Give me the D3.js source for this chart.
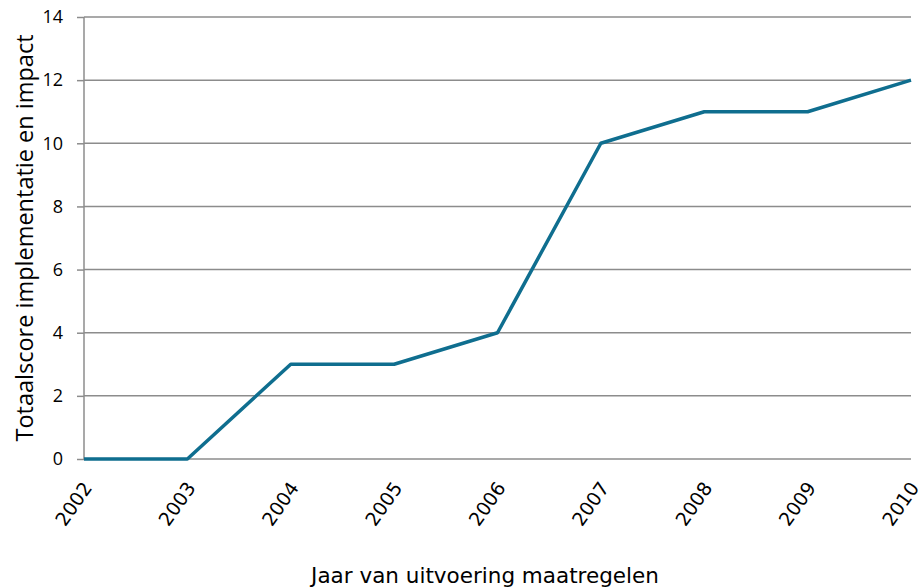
<!DOCTYPE html>
<html>
<head>
<meta charset="utf-8">
<script src="https://cdn.jsdelivr.net/npm/d3@7"></script>
<style>
  body { margin: 0; background: #fff; }
  svg text { font-family: "DejaVu Sans", Verdana, sans-serif; fill: #000; }
</style>
</head>
<body>
<div id="chart"></div>
<script>
// jaren en scores
const years = ["2002", "2003", "2004", "2005", "2006", "2007", "2008", "2009", "2010"];
const scores = [0, 0, 3, 3, 4, 10, 11, 11, 12];
const yTicks = [0, 2, 4, 6, 8, 10, 12, 14];

const width = 920, height = 587;
const margin = {top: 17, right: 9, bottom: 128, left: 84};
const w = width - margin.left - margin.right,
      h = height - margin.top - margin.bottom;

const svg = d3.select("#chart")
  .append("svg")
    .attr("width", width)
    .attr("height", height);

const g = svg.append("g")
    .attr("transform", "translate(" + margin.left + "," + margin.top + ")");

const x = d3.scalePoint()
  .domain(years)
  .range([0, w]);

const y = d3.scaleLinear()
  .domain([0, 14])
  .range([h, 0]);

// gridlines + y axis
const yAxis = g.append("g")
  .call(d3.axisLeft(y).tickValues(yTicks).tickSize(7).tickPadding(14).tickFormat(d3.format("d")));
yAxis.select(".domain").remove();
yAxis.selectAll("line").attr("stroke", "#8c8c8c").attr("stroke-width", 1.5);
yAxis.selectAll("text")
  .style("font-family", "'Open Sans', sans-serif")
  .style("font-size", "18px");

g.append("g")
  .selectAll("line")
  .data(yTicks)
  .enter()
  .append("line")
    .attr("x1", 0)
    .attr("x2", w)
    .attr("y1", d => y(d))
    .attr("y2", d => y(d))
    .attr("stroke", "#8c8c8c")
    .attr("stroke-width", 1.5);

g.append("line")
  .attr("x1", 0).attr("x2", 0)
  .attr("y1", 0).attr("y2", h)
  .attr("stroke", "#8c8c8c")
  .attr("stroke-width", 1.5);

// x axis labels, rotated
const xAxis = g.append("g")
  .attr("transform", "translate(0," + h + ")")
  .call(d3.axisBottom(x).tickSize(0).tickPadding(0));
xAxis.select(".domain").remove();
xAxis.selectAll("text")
  .style("font-size", "19px")
  .attr("text-anchor", "end")
  .attr("dy", "0.35em")
  .attr("transform", "translate(3,25) rotate(-55)");

// line
const line = d3.line()
  .x((d, i) => x(years[i]))
  .y(d => y(d));

g.append("path")
  .datum(scores)
  .attr("fill", "none")
  .attr("stroke", "#0f6e8f")
  .attr("stroke-width", 3.5)
  .attr("stroke-linejoin", "round")
  .attr("d", line);

// axis titles
svg.append("text")
  .attr("transform", "translate(33,238) rotate(-90)")
  .attr("text-anchor", "middle")
  .style("font-family", "'Open Sans', sans-serif")
  .style("font-size", "23.5px")
  .text("Totaalscore implementatie en impact");

svg.append("text")
  .attr("x", 485)
  .attr("y", 583)
  .attr("text-anchor", "middle")
  .style("font-size", "21.5px")
  .text("Jaar van uitvoering maatregelen");
</script>
</body>
</html>
